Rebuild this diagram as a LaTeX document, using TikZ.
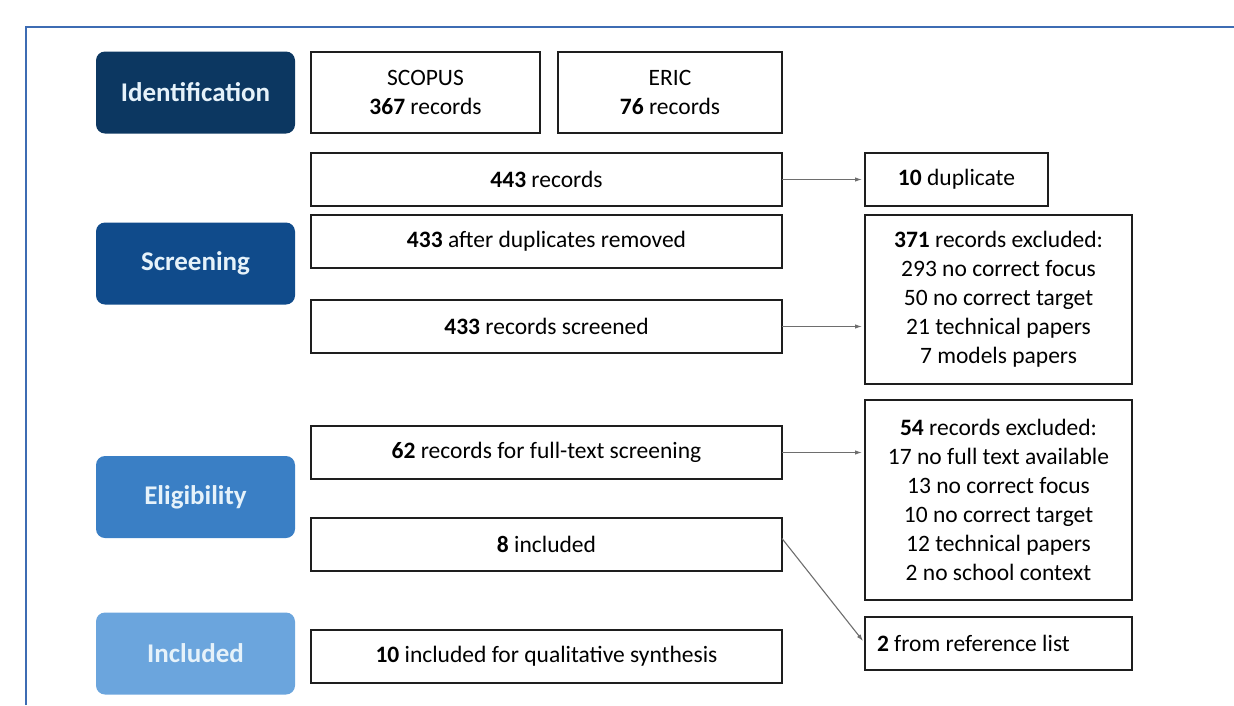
\documentclass[tikz,border=0pt]{standalone}
\usepackage{fontspec}
\setmainfont{Carlito}
\usetikzlibrary{positioning, arrows.meta}
\definecolor{identblue}{HTML}{0C3761}
\definecolor{screenblue}{HTML}{104B8B}
\definecolor{eligblue}{HTML}{3A7FC5}
\definecolor{inclblue}{HTML}{6BA5DD}
\definecolor{stagetext}{HTML}{E6F2FA}
\definecolor{frameblue}{HTML}{3D6CB3}
\definecolor{boxline}{HTML}{1E1E1E}
\definecolor{arrowgrey}{HTML}{6E6E6E}

\begin{document}
\begin{tikzpicture}[x=1pt, y=-1pt, node distance=16pt,
  stage/.style={rounded corners=9pt, minimum width=199pt, minimum height=82pt, inner sep=0pt, outer sep=0pt, text=stagetext, font=\fontsize{27}{30}\selectfont\bfseries},
  box/.style={draw=boxline, line width=1.3pt, minimum height=53pt, inner sep=4pt, outer sep=0pt, align=center, font=\fontsize{23.5}{29}\selectfont},
  flow/.style={-{Latex[length=7pt,width=4.5pt]}, draw=arrowgrey, line width=1.1pt, shorten >=3pt}]
\useasboundingbox (0,0) rectangle (1234,705);
\draw[frameblue, line width=2.5pt] (26,705) -- (26,27) -- (1234,27);
% stages
\node[stage, fill=identblue] (ident) at (195.5,92.5) {Identification};
\node[stage, fill=screenblue] (screen) at (195.5,263.5) {Screening};
\node[stage, fill=eligblue] (elig) at (195.5,497) {Eligibility};
\node[stage, fill=inclblue] (incl) at (195.5,653.5) {Included};
% main column
\node[box, minimum width=229pt, minimum height=81pt, right=16pt of ident] (scopus) {SCOPUS\\\textbf{367} records};
\node[box, minimum width=224pt, minimum height=81pt, right=18pt of scopus] (eric) {ERIC\\\textbf{76} records};
\node[box, minimum width=471pt, below right=20pt and 0pt of scopus.south west] (rec443) {\textbf{443} records};
\node[box, minimum width=471pt, below right=9pt and 0pt of rec443.south west] (after433) {\textbf{433} after duplicates removed};
\node[box, minimum width=471pt, below right=32pt and 0pt of after433.south west] (screened433) {\textbf{433} records screened};
\node[box, minimum width=471pt, below right=73pt and 0pt of screened433.south west] (full62) {\textbf{62} records for full-text screening};
\node[box, minimum width=471pt, below right=39pt and 0pt of full62.south west] (incl8) {\textbf{8} included};
\node[box, minimum width=471pt, below right=59pt and 0pt of incl8.south west] (incl10) {\textbf{10} included for qualitative synthesis};
% excluded column
\node[box, minimum width=183pt, right=83pt of rec443] (dup) {\textbf{10} duplicate};
\node[box, minimum width=267pt, minimum height=169pt, below right=9pt and 0pt of dup.south west] (excl371) {\textbf{371} records excluded:\\293 no correct focus\\50 no correct target\\21 technical papers\\7 models papers};
\node[box, minimum width=267pt, minimum height=200pt, below right=16pt and 0pt of excl371.south west] (excl54) {\textbf{54} records excluded:\\17 no full text available\\13 no correct focus\\10 no correct target\\12 technical papers\\2 no school context};
\node[box, minimum width=267pt, text width=243pt, align=flush left, below right=17pt and 0pt of excl54.south west] (ref2) {\textbf{2} from reference list};
% arrows
\draw[flow] (rec443) -- (dup);
\draw[flow] (screened433) -- (screened433 -| excl371.west);
\draw[flow] (full62) -- (full62 -| excl54.west);
\draw[flow] ([yshift=6pt]incl8.east) -- (ref2.west);
\end{tikzpicture}
\end{document}
